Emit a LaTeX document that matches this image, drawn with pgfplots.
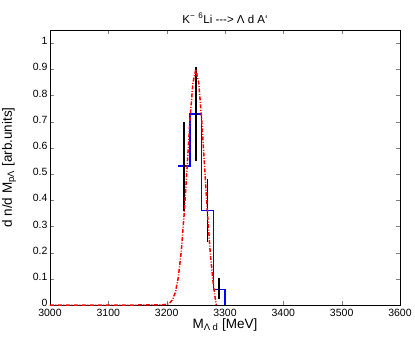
\documentclass[border=0pt]{standalone}
\usepackage{fontspec}
\setmainfont{Liberation Sans}
\usepackage{pgfplots}
\pgfplotsset{compat=1.18}

\begin{document}
\begin{tikzpicture}
\path[use as bounding box] (-50pt,-38pt) rectangle (365pt,305pt);
\begin{axis}[
    at={(0pt,0pt)}, anchor=south west,
    scale only axis, width=350pt, height=275pt,
    xmin=3000, xmax=3600, ymin=0, ymax=1.05,
    xtick={3000,3100,...,3600},
    ytick={0,0.1,...,1},
    yticklabels={0,0.1,0.2,0.3,0.4,0.5,0.6,0.7,0.8,0.9,1},
    tick align=inside, tick pos=both,
    major tick length=4pt,
    tick label style={font=\fontsize{10.5}{11}\selectfont},
    /pgf/number format/assume math mode=true,
    /pgf/number format/1000 sep={},
    xticklabel style={yshift=-0.5pt},
    yticklabel style={xshift=1pt, yshift=2pt},
    title={K\textsuperscript{−} \textsuperscript{6}Li -{}-{}-> Λ d A`},
    title style={font=\fontsize{11.5}{12}\selectfont, yshift=-3pt},
    xlabel={M\textsubscript{Λ d} [MeV]},
    xlabel style={font=\fontsize{13.5}{14}\selectfont, yshift=5pt},
    ylabel={d n/d M\textsubscript{pΛ} [arb.units]},
    ylabel style={font=\fontsize{13.5}{14}\selectfont, yshift=10pt},
    axis line style={black, line width=0.6pt},
]
\addplot[blue, line width=1.5pt, const plot mark left] coordinates {
    (3220,0.53) (3240,0.73) (3260,0.36) (3280,0.06) (3300,0.06) (3300,0)
};
\addplot[draw=none, mark=none,
    error bars/.cd, y dir=both, y explicit, error mark=none,
    error bar style={black, line width=1.6pt}] coordinates {
    (3230,0.53) +- (0,0.17)
    (3250,0.73) +- (0,0.18)
    (3270,0.362) +- (0,0.121)
    (3290,0.062) +- (0,0.04)
};
\addplot[red, line width=1.5pt, dash pattern=on 4pt off 1.5pt on 1pt off 1.5pt] coordinates {
    (3000,0) (3100,0) (3150,0) (3190,0.0004) (3200,0.0023) (3205,0.0073)
    (3210,0.020) (3215,0.049) (3220,0.106) (3225,0.204) (3230,0.348)
    (3235,0.527) (3240,0.709) (3245,0.848) (3250,0.90) (3255,0.848)
    (3260,0.709) (3265,0.527) (3270,0.348) (3275,0.19) (3280,0.08)
    (3283,0.03) (3285,0)
};
\end{axis}
\end{tikzpicture}
\end{document}
